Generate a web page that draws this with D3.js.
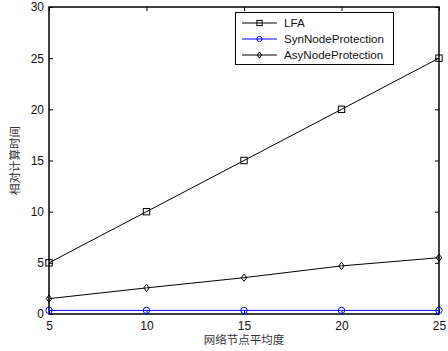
<!DOCTYPE html>
<html>
<head>
<meta charset="utf-8">
<script src="https://cdn.jsdelivr.net/npm/d3@7"></script>
<style>
  body { margin: 0; background: #fff; }
  text { font-family: "Liberation Sans", Arial, sans-serif; }
</style>
</head>
<body>
<div id="chart"></div>
<script>
// 数据
const degrees = [5, 10, 15, 20, 25];
const lfa = [5, 10, 15, 20, 25];
const synNode = [0.35, 0.35, 0.35, 0.35, 0.35];
const asyNode = [1.5, 2.55, 3.55, 4.7, 5.5];
const xTicks = [5, 10, 15, 20, 25];
const yTicks = [0, 5, 10, 15, 20, 25, 30];

const width = 448, height = 351;
const margin = { top: 7, right: 9, bottom: 37, left: 49 };

const svg = d3.select("#chart").append("svg")
  .attr("width", width)
  .attr("height", height);

const x = d3.scaleLinear().domain([5, 25]).range([margin.left, width - margin.right]);
const y = d3.scaleLinear().domain([0, 30]).range([height - margin.bottom, margin.top]);

// 坐标轴（刻度朝内）
const axisStyle = g => {
  g.select(".domain").remove();
  g.selectAll("line").attr("stroke", "#000");
  g.selectAll("text").attr("fill", "#111").style("font-size", "12px");
};

svg.append("g")
  .attr("transform", `translate(0,${y(0)})`)
  .call(d3.axisBottom(x).tickValues(xTicks).tickSizeInner(-4).tickSizeOuter(0).tickPadding(7))
  .call(axisStyle);

svg.append("g")
  .attr("transform", `translate(0,${y(30)})`)
  .call(d3.axisTop(x).tickValues(xTicks).tickSizeInner(-4).tickSizeOuter(0).tickFormat(""))
  .call(axisStyle);

svg.append("g")
  .attr("transform", `translate(${x(5)},0)`)
  .call(d3.axisLeft(y).tickValues(yTicks).tickSizeInner(-4).tickSizeOuter(0).tickPadding(5))
  .call(axisStyle);

svg.append("g")
  .attr("transform", `translate(${x(25)},0)`)
  .call(d3.axisRight(y).tickValues(yTicks).tickSizeInner(-4).tickSizeOuter(0).tickFormat(""))
  .call(axisStyle);

// 坐标框
svg.append("rect")
  .attr("x", x(5)).attr("y", y(30))
  .attr("width", x(25) - x(5)).attr("height", y(0) - y(30))
  .attr("fill", "none").attr("stroke", "#000").attr("stroke-width", 1.5);

// 系列
const series = [
  { name: "LFA", values: lfa, color: "#000", marker: "square" },
  { name: "SynNodeProtection", values: synNode, color: "#0000ff", marker: "circle" },
  { name: "AsyNodeProtection", values: asyNode, color: "#000", marker: "diamond" }
];

const line = d3.line().x(d => x(d[0])).y(d => y(d[1]));

function drawMarker(g, type, cx, cy, color, s) {
  if (type === "square") {
    g.append("rect").attr("x", cx - s).attr("y", cy - s).attr("width", 2 * s).attr("height", 2 * s)
      .attr("fill", "none").attr("stroke", color).attr("stroke-width", 1);
  } else if (type === "circle") {
    g.append("circle").attr("cx", cx).attr("cy", cy).attr("r", s)
      .attr("fill", "none").attr("stroke", color).attr("stroke-width", 1);
  } else {
    g.append("path").attr("d", `M${cx},${cy - s - 0.5}L${cx + s - 0.5},${cy}L${cx},${cy + s + 0.5}L${cx - s + 0.5},${cy}Z`)
      .attr("fill", "none").attr("stroke", color).attr("stroke-width", 1);
  }
}

series.forEach(s => {
  const pts = degrees.map((d, i) => [d, s.values[i]]);
  svg.append("path").datum(pts)
    .attr("fill", "none").attr("stroke", s.color).attr("stroke-width", 1)
    .attr("d", line);
  const g = svg.append("g");
  pts.forEach(p => drawMarker(g, s.marker, x(p[0]), y(p[1]), s.color, 3.2));
});

// 图例
const lg = svg.append("g");
lg.append("rect").attr("x", 235.5).attr("y", 12.5).attr("width", 158).attr("height", 52)
  .attr("fill", "#fff").attr("stroke", "#000").attr("stroke-width", 1);
series.forEach((s, i) => {
  const ly = 23 + i * 16;
  lg.append("line").attr("x1", 242).attr("x2", 277).attr("y1", ly).attr("y2", ly)
    .attr("stroke", s.color).attr("stroke-width", 1);
  drawMarker(lg, s.marker, 259.5, ly, s.color, 2.6);
  lg.append("text").attr("x", 284).attr("y", ly).attr("dy", "0.35em")
    .style("font-size", "11.6px").attr("fill", "#111").text(s.name);
});

// 轴标题
svg.append("text")
  .attr("x", x(15)).attr("y", 344)
  .attr("text-anchor", "middle")
  .style("font-family", "'Noto Sans CJK SC', sans-serif")
  .style("font-size", "11.5px").attr("fill", "#333")
  .text("网络节点平均度");

svg.append("text")
  .attr("transform", `translate(19,${y(15)}) rotate(-90)`)
  .attr("text-anchor", "middle")
  .style("font-family", "'Noto Sans CJK SC', sans-serif")
  .style("font-size", "11.5px").attr("fill", "#333")
  .text("相对计算时间");
</script>
</body>
</html>
